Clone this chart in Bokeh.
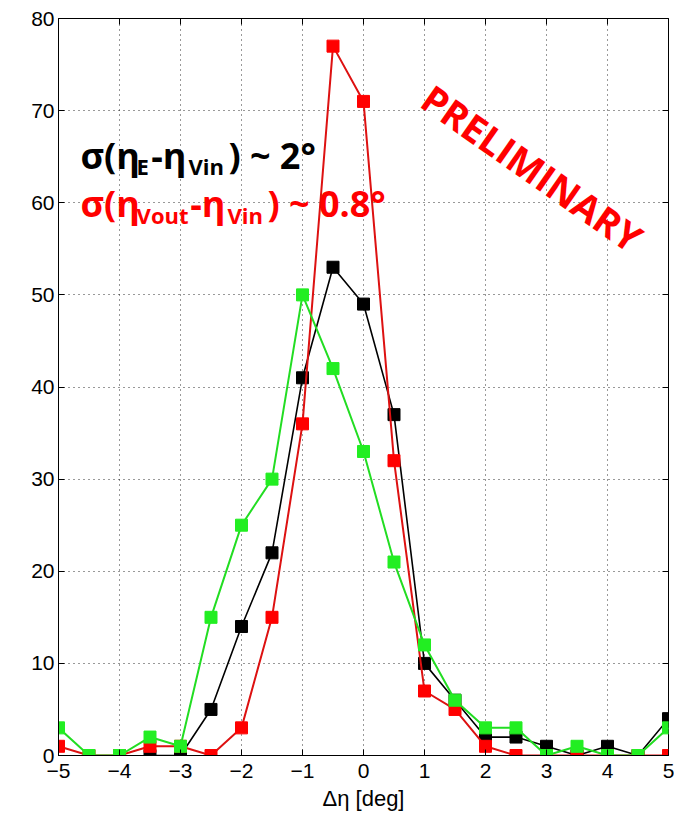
from bokeh.plotting import figure
from bokeh.models import Label, LinearAxis, FixedTicker, Range1d
from bokeh.embed import file_html
from bokeh.resources import INLINE

# Δη bins (deg)
eta_bins = [-5, -4.5, -4, -3.5, -3, -2.5, -2, -1.5, -1, -0.5, 0,
            0.5, 1, 1.5, 2, 2.5, 3, 3.5, 4, 4.5, 5]

# eta_E - eta_Vin (black), starts at -3.5
black_x = eta_bins[3:]
black_counts = [0, 0, 5, 14, 22, 41, 53, 49, 37, 10, 6, 2, 2, 1, 0, 1, 0, 4]

# eta_Vout - eta_Vin (red)
red_counts = [1, 0, 0, 1, 1, 0, 3, 15, 36, 77, 71, 32, 7, 5, 1, 0, 0, 0, 0, 0, 0]

# green series
green_counts = [3, 0, 0, 2, 1, 15, 25, 30, 50, 42, 33, 21, 12, 6, 3, 3, 0, 1, 0, 0, 3]

x_ticks = [-5, -4, -3, -2, -1, 0, 1, 2, 3, 4, 5]
y_ticks = [0, 10, 20, 30, 40, 50, 60, 70, 80]

TICK_FONT = "Liberation Sans"
NOTE_FONT = "Open Sans"

p = figure(width=674, height=819, output_backend="svg", toolbar_location=None,
           x_range=Range1d(-5, 5), y_range=Range1d(0, 80),
           min_border_left=58, min_border_right=6, min_border_top=18,
           min_border_bottom=64)
p.background_fill_color = "white"
p.border_fill_color = "white"
p.outline_line_color = "black"
p.outline_line_width = 1
p.outline_line_alpha = 1

for ax in (p.xaxis[0], p.yaxis[0]):
    ax.major_label_text_font = TICK_FONT
    ax.major_label_text_font_size = "21px"
    ax.major_label_text_color = "black"
    ax.axis_line_color = "black"
    ax.major_tick_in = 6
    ax.major_tick_out = 0
    ax.minor_tick_line_color = None
    ax.major_tick_line_color = "black"

p.xaxis[0].ticker = FixedTicker(ticks=x_ticks)
p.yaxis[0].ticker = FixedTicker(ticks=y_ticks)
p.xaxis[0].major_label_standoff = 8
p.yaxis[0].major_label_standoff = 4
p.xaxis[0].axis_label = "Δη [deg]"
p.xaxis[0].axis_label_text_font = TICK_FONT
p.xaxis[0].axis_label_text_font_style = "normal"
p.xaxis[0].axis_label_text_font_size = "22px"
p.xaxis[0].axis_label_text_color = "black"
p.xaxis[0].axis_label_standoff = 5

# box ticks on the top and right edges (unlabelled)
for loc, ticks in (("right", y_ticks), ("above", x_ticks)):
    a = LinearAxis(ticker=FixedTicker(ticks=ticks),
                   major_label_overrides={t: "" for t in ticks})
    a.major_label_standoff = 0
    a.axis_line_color = None
    a.major_tick_in = 6
    a.major_tick_out = 0
    a.minor_tick_line_color = None
    a.major_tick_line_color = "black"
    p.add_layout(a, loc)

for g in (p.xgrid[0], p.ygrid[0]):
    g.grid_line_color = "black"
    g.grid_line_dash = "1 4"
    g.grid_line_alpha = 0.8
    g.grid_line_width = 1
p.xgrid[0].ticker = FixedTicker(ticks=x_ticks)
p.ygrid[0].ticker = FixedTicker(ticks=y_ticks)

# series: black first, then red, green on top
p.line(black_x, black_counts, line_color="black", line_width=1.6)
p.scatter(black_x, black_counts, marker="square", size=12,
          fill_color="black", line_color="black")

p.line(eta_bins, red_counts, line_color="#dd1111", line_width=2)
p.scatter(eta_bins, red_counts, marker="square", size=12,
          fill_color="#ff0000", line_color="#ff0000")

p.line(eta_bins, green_counts, line_color="#22dd22", line_width=2)
p.scatter(eta_bins, green_counts, marker="square", size=12,
          fill_color="#22ee22", line_color="#22ee22")


def note(x, y, text, color, size):
    p.add_layout(Label(x=x, y=y, text=text, text_color=color,
                       text_font=NOTE_FONT, text_font_style="bold",
                       text_font_size=size, text_baseline="alphabetic",
                       text_align="left"))


MAIN = "36px"
SUB = "22px"

# sigma(eta_E - eta_Vin) ~ 2 deg
note(-4.64, 65.13, "σ(η", "black", MAIN)
note(-3.72, 64.04, "E", "black", SUB)
note(-3.48, 65.13, "-η", "black", MAIN)
note(-2.87, 64.04, "Vin", "black", SUB)
note(-2.215, 65.13, ") ~ 2°", "black", MAIN)

# sigma(eta_Vout - eta_Vin) ~ 0.8 deg
note(-4.64, 59.92, "σ(η", "#ff0000", MAIN)
note(-3.72, 58.62, "Vout", "#ff0000", SUB)
note(-2.84, 59.92, "-η", "#ff0000", MAIN)
note(-2.23, 58.62, "Vin", "#ff0000", SUB)
note(-1.575, 59.92, ") ~ 0.8°", "#ff0000", MAIN)

p.add_layout(Label(x=2.77, y=63.8, text="PRELIMINARY", text_color="#ff0000",
                   text_font=NOTE_FONT, text_font_style="bold",
                   text_font_size="38px", angle=-35, angle_units="deg",
                   text_align="center", text_baseline="middle"))

open("out.html", "w").write(file_html(p, INLINE))
